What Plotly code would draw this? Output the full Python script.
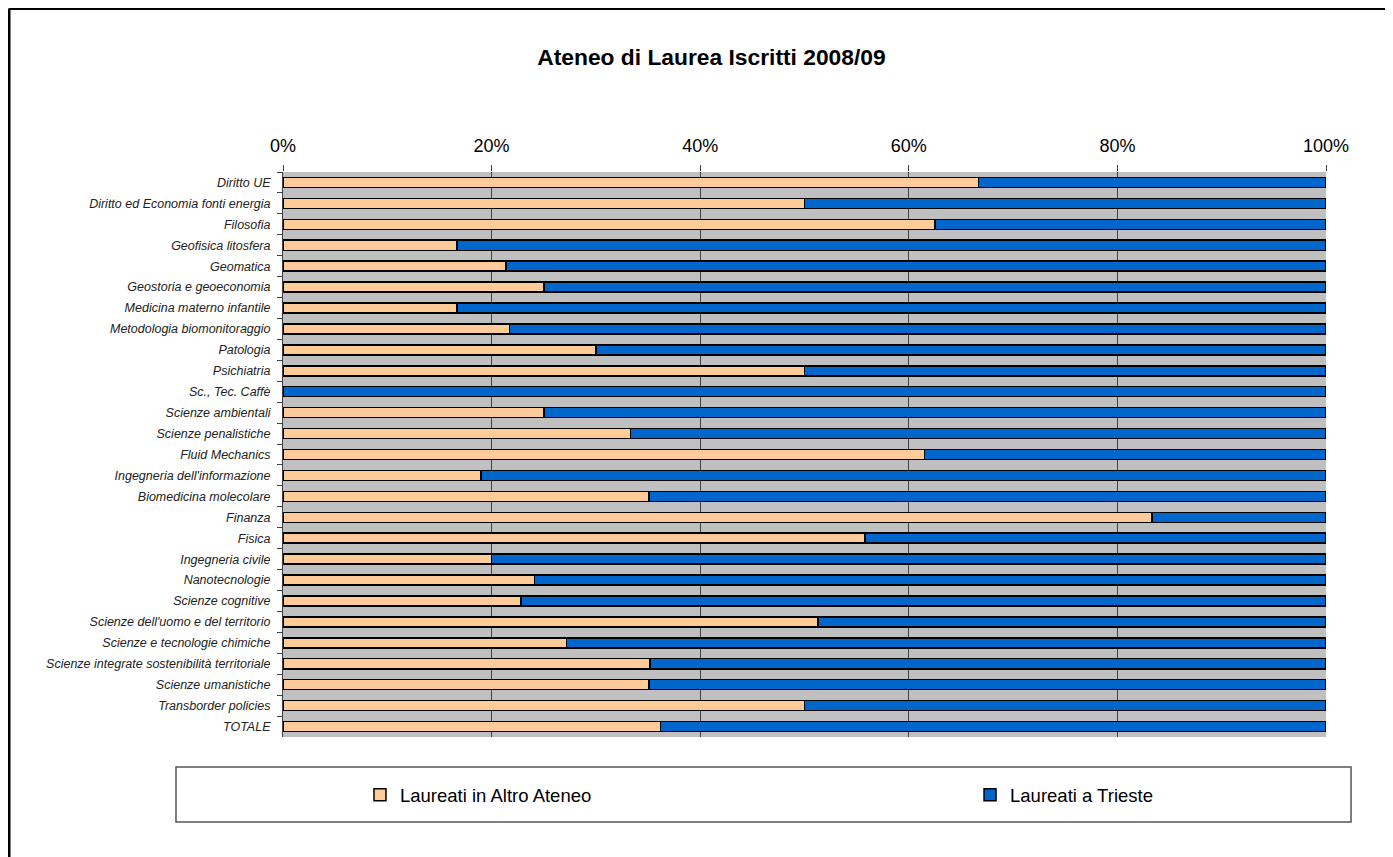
import plotly.graph_objects as go

# Corsi di studio (top to bottom)
corsi = [
    "Diritto UE",
    "Diritto ed Economia fonti energia",
    "Filosofia",
    "Geofisica litosfera",
    "Geomatica",
    "Geostoria e geoeconomia",
    "Medicina materno infantile",
    "Metodologia biomonitoraggio",
    "Patologia",
    "Psichiatria",
    "Sc., Tec. Caffè",
    "Scienze ambientali",
    "Scienze penalistiche",
    "Fluid Mechanics",
    "Ingegneria dell'informazione",
    "Biomedicina molecolare",
    "Finanza",
    "Fisica",
    "Ingegneria civile",
    "Nanotecnologie",
    "Scienze cognitive",
    "Scienze dell'uomo e del territorio",
    "Scienze e tecnologie chimiche",
    "Scienze integrate sostenibilità territoriale",
    "Scienze umanistiche",
    "Transborder policies",
    "TOTALE",
]

# quota laureati in altro ateneo
altro_ateneo = [
    0.667, 0.500, 0.625, 0.167, 0.214, 0.250, 0.167, 0.217, 0.300, 0.500,
    0.000, 0.250, 0.333, 0.615, 0.190, 0.351, 0.833, 0.558, 0.200, 0.241,
    0.228, 0.513, 0.272, 0.352, 0.351, 0.500, 0.362,
]
trieste = [round(1 - v, 3) for v in altro_ateneo]

fig = go.Figure()
fig.add_trace(go.Bar(
    y=corsi, x=altro_ateneo, orientation="h", name="Laureati in Altro Ateneo",
    marker=dict(color="#FFCC99", line=dict(color="black", width=1.5)),
    legend="legend",
))
fig.add_trace(go.Bar(
    y=corsi, x=trieste, orientation="h", name="Laureati a Trieste",
    marker=dict(color="#0066CC", line=dict(color="black", width=1.5)),
    legend="legend2",
))

leg_style = dict(orientation="h", yanchor="middle", y=-0.103, xanchor="left",
                 font=dict(size=18.5), bgcolor="rgba(0,0,0,0)")

fig.update_layout(
    width=1393, height=857,
    margin=dict(l=275, r=75, t=164, b=128),
    paper_bgcolor="white",
    plot_bgcolor="#C0C0C0",
    barmode="stack",
    bargap=0.52,
    font=dict(family="Liberation Sans, Arial", color="black"),
    title=dict(text="<b>Ateneo di Laurea Iscritti 2008/09</b>", x=0.505, xanchor="center",
               y=0.943, yanchor="middle", font=dict(size=22.8)),
    showlegend=True,
    legend=dict(x=0.0738, **leg_style),
    legend2=dict(x=0.6587, **leg_style),
    xaxis=dict(side="top", range=[0, 1], dtick=0.2, tickformat=".0%",
               tickfont=dict(size=18), showgrid=True, gridcolor="#404040", gridwidth=1,
               ticks="outside", ticklen=6, tickcolor="#404040", zeroline=False,
               ticklabelstandoff=6,
               showline=False, fixedrange=True),
    yaxis=dict(autorange="reversed", tickfont=dict(size=12.5, style="italic", color="#222222"),
               ticks="outside", ticklen=5, tickcolor="#404040", tickson="boundaries",
               ticklabelstandoff=9,
               showline=True, linecolor="#404040", linewidth=1, showgrid=False),
    shapes=[
        # legend box
        dict(type="rect", xref="paper", yref="paper", x0=-0.1026, x1=1.024,
             y0=-0.1506, y1=-0.0531, line=dict(color="#555555", width=1.5)),
        # outer chart border
        dict(type="line", xref="paper", yref="paper", x0=-0.2627, x1=1.2,
             y0=1.2896, y1=1.2896, line=dict(color="black", width=3)),
        dict(type="line", xref="paper", yref="paper", x0=-0.2627, x1=-0.2627,
             y0=-0.3, y1=1.2896, line=dict(color="black", width=3)),
    ],
)

fig.write_html("out.html")
